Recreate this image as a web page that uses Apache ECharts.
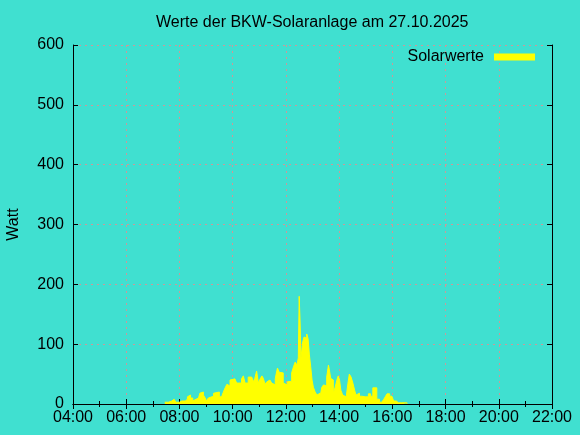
<!DOCTYPE html>
<html>
<head>
<meta charset="utf-8">
<script src="https://cdn.jsdelivr.net/npm/echarts@6/dist/echarts.min.js"></script>
<style>html,body{margin:0;padding:0;background:#40e0d0;}#c{width:580px;height:435px;}</style>
</head>
<body>
<div id="c"></div>
<script>
const chartTitle = "Werte der BKW-Solaranlage am 27.10.2025";
const seriesName = "Solarwerte";
const yAxisName = "Watt";
const xTickMin = "04:00";
const xTickMax = "22:00";
const yTickMax = 600;

const times = [
  "07:27","07:31","07:35","07:43","07:48","07:52","08:00","08:05","08:13","08:18",
  "08:22","08:25","08:30","08:33","08:35","08:43","08:46","08:50","08:54","08:58",
  "09:01","09:05","09:09","09:17","09:20","09:30","09:35","09:39","09:43","09:47",
  "09:50","09:54","09:58","10:05","10:09","10:13","10:20","10:24","10:28","10:35",
  "10:43","10:47","10:50","10:54","10:58","11:02","11:06","11:09","11:13","11:17",
  "11:21",
  "11:24","11:28","11:32","11:36","11:38","11:41","11:45","11:48","11:54","11:58",
  "12:03","12:06","12:13","12:17","12:21","12:25","12:28","12:30","12:32","12:34",
  "12:38","12:41","12:44","12:47","12:50","12:53","12:56","12:59","13:02","13:06",
  "13:10","13:13","13:17","13:21","13:25","13:28","13:32","13:36","13:38","13:41",
  "13:43","13:47","13:51","13:55","13:58","14:01","14:04","14:08","14:11","14:16",
  "14:20","14:23","14:27","14:31","14:35","14:38","14:41","14:46","14:51","14:59",
  "15:02","15:06","15:11","15:16","15:25","15:31","15:36","15:40","15:44","15:48",
  "15:54","15:59","16:03","16:09","16:14","16:18","16:21","16:25","16:33"
];
const watts = [
  3,3,5,8,5,3,5,5,8,12,
  15,10,5,7,10,12,18,20,15,10,
  5,10,13,18,20,12,15,20,27,33,
  30,40,42,45,35,35,42,47,35,45,
  42,37,43,55,35,42,47,43,33,37,
  40,
  40,35,32,42,50,60,53,52,35,32,
  37,38,52,62,70,65,77,180,137,77,
  104,112,110,117,109,82,62,40,28,20,
  15,18,12,28,32,30,45,65,57,43,
  40,18,28,40,47,40,23,15,12,15,
  35,50,45,35,23,15,18,13,12,15,
  12,17,13,27,8,3,2,7,12,17,
  13,10,5,2,5,2,3,2,0
];

function toMin(s){ const p = s.split(':').map(Number); return p[0]*60 + p[1]; }
function fmt(v){ const h = Math.floor(v/60), m = v%60; return (h<10?'0':'')+h+':'+(m<10?'0':'')+m; }

const data = times.map((t,i) => [toMin(t), watts[i]]);
const FONT = 'Liberation Sans, Arial, sans-serif';
const xmin = toMin(xTickMin), xmax = toMin(xTickMax);

const gridLine = { show: true, lineStyle: { color: '#cc9999', width: 1, type: [2,4] } };
const axLine = { show: true, lineStyle: { color: '#000', width: 1 } };

const chart = echarts.init(document.getElementById('c'), null, { renderer: 'canvas' });
chart.setOption({
  animation: false,
  backgroundColor: '#40e0d0',
  title: {
    text: chartTitle, left: 151, top: 10,
    textStyle: { fontFamily: FONT, fontSize: 16, fontWeight: 'normal', color: '#000' }
  },
  legend: {
    data: [seriesName], right: 45, top: 49, padding: 0, align: 'right', icon: 'rect',
    itemWidth: 41, itemHeight: 7,
    textStyle: { fontFamily: FONT, fontSize: 16, color: '#000', padding: [0,5,0,0] }
  },
  grid: { left: 73, top: 45, right: 28, bottom: 31, show: false, containLabel: false, outerBoundsMode: 'none' },
  xAxis: [{
    type: 'value', min: xmin, max: xmax, interval: 120, position: 'bottom',
    axisLine: axLine,
    axisTick: { show: true, inside: true, length: 5, lineStyle: { color: '#000' } },
    minorTick: { show: true, splitNumber: 2, length: 3, lineStyle: { color: '#000' } },
    splitLine: gridLine,
    axisLabel: { formatter: fmt, margin: 6, fontFamily: FONT, fontSize: 16, color: '#000' }
  },{
    type: 'value', min: xmin, max: xmax, interval: 120, position: 'top',
    axisLine: axLine,
    axisTick: { show: true, inside: true, length: 5, lineStyle: { color: '#000' } },
    minorTick: { show: true, splitNumber: 2, length: 3, lineStyle: { color: '#000' } },
    splitLine: { show: false }, axisLabel: { show: false }
  }],
  yAxis: [{
    type: 'value', min: 0, max: yTickMax, interval: 100, position: 'left',
    name: yAxisName, nameLocation: 'middle', nameGap: 51,
    nameTextStyle: { fontFamily: FONT, fontSize: 16, color: '#000' },
    axisLine: axLine,
    axisTick: { show: true, inside: true, length: 5, lineStyle: { color: '#000' } },
    splitLine: gridLine,
    axisLabel: { margin: 9, fontFamily: FONT, fontSize: 16, color: '#000' }
  },{
    type: 'value', min: 0, max: yTickMax, interval: 100, position: 'right',
    axisLine: axLine,
    axisTick: { show: true, inside: true, length: 5, lineStyle: { color: '#000' } },
    splitLine: { show: false }, axisLabel: { show: false }
  }],
  series: [{
    name: seriesName, type: 'line', step: 'end', data: data,
    xAxisIndex: 0, yAxisIndex: 0,
    showSymbol: false, symbol: 'none', color: '#ffff00',
    lineStyle: { color: '#ffff00', width: 1 },
    areaStyle: { color: '#ffff00', opacity: 1 },
    z: 1
  }]
});
</script>
</body>
</html>
